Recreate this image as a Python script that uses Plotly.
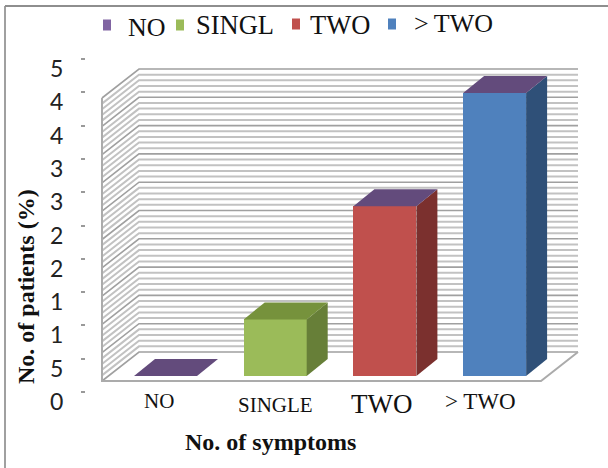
import plotly.graph_objects as go

categories = ["NO", "SINGLE", "TWO", "> TWO"]
legend_labels = ["NO", "SINGL", "TWO", ">\u2009TWO"]
values = [0, 1, 3, 5]
front_colors = ["#8064A2", "#9BBB59", "#C0504D", "#4F81BD"]
top_colors = ["#634B7C", "#76923C", "#634B7C", "#634B7C"]
side_colors = ["#634B7C", "#677F38", "#7B302E", "#2F5078"]
tick_vals = [0, 0.5, 1, 1.5, 2, 2.5, 3, 3.5, 4, 4.5, 5]
tick_text = ["0", "5", "1", "1", "2", "2", "3", "3", "4", "4", "5"]
wall_max = 5

W, H = 608, 468
PX_CAT, X0 = 109.7, 165.5      # pixels per category, pixel of first category
PX_VAL, Y0 = 56.6, 376         # bar scale
PX_TICK, Y0_TICK = 33.3 * 2, 392  # (misaligned) value-axis scale
BAR_W = 63 / PX_CAT
DX_BAR, DY_BAR = 21 / PX_CAT, 17 / PX_VAL
DX_WALL, DY_WALL = 37 / PX_CAT, 29 / PX_VAL
C_L, C_R = (102 - X0) / PX_CAT, (541 - X0) / PX_CAT
V_OFF = -5 / PX_VAL

x_range = [-X0 / PX_CAT, (W - X0) / PX_CAT]
y_range = [(Y0 - H) / PX_VAL, Y0 / PX_VAL]
tick_range = [(Y0_TICK - H) / PX_TICK, Y0_TICK / PX_TICK]

fig = go.Figure()


def wall_trace(levels, color, width):
    xs, ys = [], []
    for v in levels:
        xs += [C_L, C_L + DX_WALL, C_R + DX_WALL, None]
        ys += [v + V_OFF, v + V_OFF + DY_WALL, v + V_OFF + DY_WALL, None]
    fig.add_trace(go.Scatter(x=xs, y=ys, mode="lines", hoverinfo="skip",
                             line=dict(color=color, width=width), showlegend=False))


steps = [i / 10 for i in range(0, wall_max * 10 + 1)]
wall_trace([v for v in steps if round(v * 10) % 5 != 0], "#C2C2C2", 2)
wall_trace([v for v in steps if round(v * 10) % 5 == 0], "#A0A0A0", 1.6)

# left wall edge and floor outline
fig.add_trace(go.Scatter(
    x=[C_L, C_L, C_R, C_R + DX_WALL],
    y=[wall_max + V_OFF, V_OFF, V_OFF, V_OFF + DY_WALL],
    mode="lines", hoverinfo="skip", line=dict(color="#ABABAB", width=2), showlegend=False))

# bars sit on an overlaid axis so that they paint above the wall lines
fig.add_trace(go.Bar(x=list(range(len(categories))), y=values, width=BAR_W,
                     marker=dict(color=front_colors, line=dict(width=0)),
                     yaxis="y2", xaxis="x", hoverinfo="skip", showlegend=False))

for i, v in enumerate(values):
    l, r = i - BAR_W / 2, i + BAR_W / 2
    if v > 0:
        fig.add_trace(go.Scatter(
            x=[r, r + DX_BAR, r + DX_BAR, r, r], y=[0, DY_BAR, v + DY_BAR, v, 0],
            yaxis="y2", mode="lines", fill="toself", fillcolor=side_colors[i],
            line=dict(width=0), hoverinfo="skip", showlegend=False))
    fig.add_trace(go.Scatter(
        x=[l, r, r + DX_BAR, l + DX_BAR, l], y=[v, v, v + DY_BAR, v + DY_BAR, v],
        yaxis="y2", mode="lines", fill="toself", fillcolor=top_colors[i],
        line=dict(width=0), hoverinfo="skip", showlegend=False))

# tick marks of the value axis
fig.add_trace(go.Scatter(x=[None], y=[None], yaxis="y3", showlegend=False, hoverinfo="skip"))

CENTER = dict(xanchor="center", yanchor="middle", showarrow=False)
annotations = []
for v, t in zip(tick_vals, tick_text):
    annotations.append(dict(x=56 / W, y=v, xref="paper", yref="y3", yshift=-9, text=t,
                            font=dict(family="Lato", size=23, color="#222222"), **CENTER))

SERIF = "Liberation Serif"
cat_style = [(159, 401, 21), (275, 405, 21), (381, 404, 27), (480, 401, 23)]
for c, (px, py, size) in zip(categories, cat_style):
    annotations.append(dict(x=px / W, y=1 - py / H, xref="paper", yref="paper", text=c,
                            font=dict(family=SERIF, size=size, color="#111111"), **CENTER))

leg_text = [(147, 27, 26), (235, 25, 26.5), (340, 25, 26.5), (453, 23, 26)]
for c, (px, py, size) in zip(legend_labels, leg_text):
    annotations.append(dict(x=px / W, y=1 - py / H, xref="paper", yref="paper", text=c,
                            font=dict(family=SERIF, size=size, color="#111111"), **CENTER))

annotations.append(dict(x=270.5 / W, y=1 - 442 / H, xref="paper", yref="paper",
                        text="<b>No. of symptoms</b>",
                        font=dict(family=SERIF, size=24, color="#111111"), **CENTER))
annotations.append(dict(x=26 / W, y=1 - 287 / H, xref="paper", yref="paper",
                        text="<b>No. of patients (%)</b>", textangle=-90,
                        font=dict(family=SERIF, size=24, color="#111111"), **CENTER))

shapes = [
    dict(type="line", xref="paper", yref="paper", x0=5 / W, x1=5 / W, y0=0, y1=1 - 6 / H,
         line=dict(color="#A0A0A0", width=2)),
    dict(type="line", xref="paper", yref="paper", x0=5 / W, x1=1, y0=1 - 6 / H, y1=1 - 6 / H,
         line=dict(color="#8E8E8E", width=2)),
]
for (px, py), color in zip([(107, 25), (180, 25), (296, 24), (392, 24)], front_colors):
    shapes.append(dict(type="rect", xref="paper", yref="paper",
                       x0=(px - 4) / W, x1=(px + 4) / W,
                       y0=1 - (py + 5.5) / H, y1=1 - (py - 5.5) / H,
                       fillcolor=color, line=dict(width=0)))

fig.update_layout(
    width=W, height=H, margin=dict(l=0, r=0, t=0, b=0),
    paper_bgcolor="white", plot_bgcolor="white", showlegend=False,
    xaxis=dict(range=x_range, visible=False, fixedrange=True),
    yaxis=dict(range=y_range, visible=False, fixedrange=True),
    yaxis2=dict(range=y_range, overlaying="y", visible=False, fixedrange=True),
    yaxis3=dict(range=tick_range, overlaying="y", side="left", anchor="free", position=85 / W,
                tickmode="array", tickvals=tick_vals, ticktext=[""] * len(tick_vals),
                ticks="outside", ticklen=4, tickwidth=1.5, tickcolor="#999999",
                showline=False, showgrid=False, zeroline=False, fixedrange=True),
    annotations=annotations, shapes=shapes, bargap=0,
)

fig.write_html("out.html", config={"displayModeBar": False},
               post_script="document.body.style.margin='0';document.documentElement.style.overflow='hidden';")
